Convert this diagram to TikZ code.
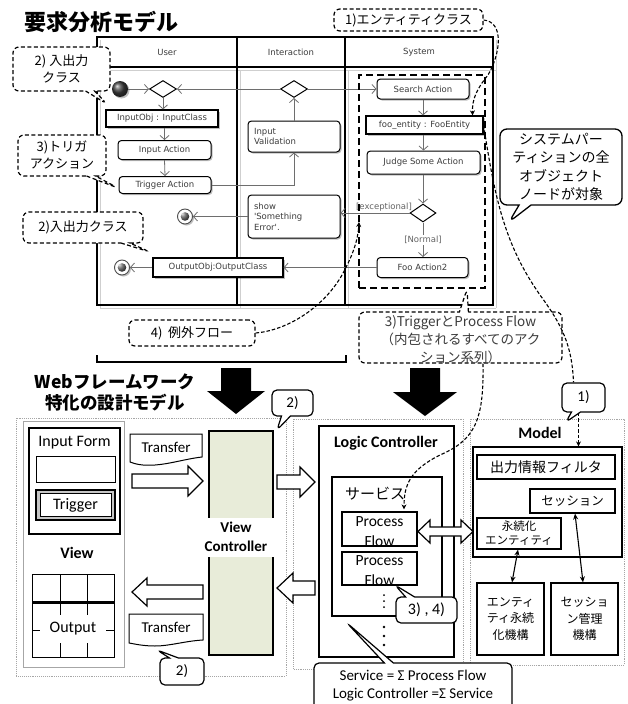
\documentclass[tikz,border=0pt]{standalone}
\usepackage{fontspec}
\setmainfont{Carlito}
\newfontfamily\jp{Noto Sans CJK JP}
\newfontfamily\umlf{DejaVu Sans}
\usetikzlibrary{arrows.meta,shapes.callouts,shapes.geometric,shadows}
\definecolor{umltxt}{HTML}{3C3C3C}
\definecolor{umlline}{HTML}{6E6E6E}
\definecolor{vcfill}{HTML}{E8ECD9}
\definecolor{lanesh}{HTML}{CFCFCF}
\begin{document}
\begin{tikzpicture}[x=1pt,y=-1pt,
  umlfont/.style={font=\umlf\fontsize{8.5}{10.5}\selectfont, text=umltxt},
  shad/.style={drop shadow={shadow xshift=1.5pt, shadow yshift=-1.5pt, opacity=0.25, fill=black}},
  act/.style={draw, rounded corners=3.5pt, line width=1pt, fill=white, umlfont, inner sep=0pt, shad},
  obj/.style={draw, line width=1.2pt, fill=white, umlfont, inner sep=0pt, shad},
  dec/.style={diamond, draw, line width=1pt, fill=white, inner sep=0pt, minimum width=27pt, minimum height=17pt},
  initn/.style={circle, minimum size=16pt, inner sep=0pt, ball color=black!75, shad},
  finn/.style={circle, minimum size=15pt, inner sep=0pt, draw=black!70, line width=0.9pt, fill=white, shad,
     path picture={\shade[ball color=black!70] (path picture bounding box.center) circle (4.3pt);}},
  flow/.style={draw=umlline, line width=0.8pt, -{Straight Barb[length=4pt,width=9pt]}},
  guard/.style={umlfont, text=umltxt!80, inner sep=1pt},
  jpc/.style={font=\jp\fontsize{13}{17}\selectfont, align=center},
  dbox/.style={draw, fill=white, rounded corners=6pt, line width=1.2pt,
     dash pattern=on 4pt off 2.5pt, inner sep=1pt, jpc},
  dcall/.style={rectangle callout, dbox, callout pointer width=9pt},
  scall/.style={rectangle callout, draw, fill=white, rounded corners=5pt, line width=1.2pt,
     inner sep=1pt, callout pointer width=9pt, font=\fontsize{15}{19}\selectfont, align=center},
  anno/.style={line width=1.1pt, dash pattern=on 3.5pt off 2pt},
  annoarr/.style={anno, -{Stealth[length=5pt,width=5pt]}},
  box/.style={draw, line width=1.2pt, inner sep=0pt, fill=white},
  lbl/.style={font=\fontsize{15}{19}\selectfont, align=center, inner sep=0pt},
  blbl/.style={font=\bfseries\fontsize{16}{19}\selectfont, align=center, inner sep=0pt},
  dotbox/.style={draw=gray!70, densely dotted, line width=0.9pt},
  wht/.style={draw, fill=white, line width=1.2pt, line join=miter},
  bigarr/.style={fill=black},
]
\clip (0,0) rectangle (628,704);
\fill[white] (0,0) rectangle (628,704);

% ===== Title =====
\node[font=\jp\bfseries\fontsize{22}{24}\selectfont, anchor=west, inner sep=0] (title1) at (24,22) {要求分析モデル};

% ===== Swimlanes =====
\draw[lanesh, line width=1pt] (100,40) -- (100,308) (240,70) -- (240,308) (348,70) -- (348,308)
  (496,40) -- (496,308) (100,308) -- (496,308) (100,70) -- (496,70);
\draw[line width=1.3pt] (97,37) rectangle (493,305);
\draw[line width=1.3pt] (97,67) -- (493,67) (237,37) -- (237,305) (345,37) -- (345,305);
\node[umlfont] (hUser) at (167,52) {User};
\node[umlfont] (hInter) at (291,52) {Interaction};
\node[umlfont] (hSys) at (419,52) {System};

% User lane
\node[initn] (init) at (120,89) {};
\node[dec] (ud) at (163,89) {};
\node[obj, minimum width=112pt, minimum height=17pt] (inobj) at (162,118.5) {InputObj : InputClass};
\node[act, minimum width=93pt, minimum height=19pt] (inact) at (164.5,150) {Input Action};
\node[act, minimum width=92pt, minimum height=17pt] (trig) at (165,185) {Trigger Action};
\node[finn] (fin1) at (185,216.5) {};
\node[finn] (fin2) at (122,267.5) {};
\node[obj, minimum width=130pt, minimum height=19pt] (outobj) at (218,267.5) {OutputObj:OutputClass};

% Interaction lane
\node[dec] (id) at (294,89) {};
\node[act, minimum width=92pt, minimum height=31pt, align=left, text width=80pt] (ival) at (294,136.5) {Input\\Validation};
\node[act, minimum width=92pt, minimum height=43pt, align=left, text width=80pt] (show) at (294,216.5) {show\\'Something\\Error'.};

% System lane
\node[act, minimum width=92pt, minimum height=20pt] (search) at (423,89) {Search Action};
\node[obj, minimum width=117pt, minimum height=18pt] (fooent) at (424.5,125) {foo\_entity : FooEntity};
\node[act, minimum width=113pt, minimum height=23pt] (judge) at (423.5,162.5) {Judge Some Action};
\node[dec, minimum width=26pt, minimum height=18pt] (dd) at (423,213) {};
\node[act, minimum width=91pt, minimum height=20pt] (foo2) at (422.5,267.5) {Foo Action2};

% flows
\draw[flow] (init.east) -- (ud.west);
\draw[flow] (id.west) -- (ud.east);
\draw[flow] (id.east) -- (search.west);
\draw[flow] (ud.south) -- (ud.south |- inobj.north);
\draw[flow] (inobj.south -| inact.north) -- (inact.north);
\draw[flow] (inact.south) -- (trig.north);
\draw[flow] (trig.east) -| (ival.south);
\draw[flow] (ival.north) -- (id.south);
\draw[flow] (search.south) -- (search.south |- fooent.north);
\draw[flow] (fooent.south -| judge.north) -- (judge.north);
\draw[flow] (judge.south -| dd.north) -- (dd.north);
\draw[flow] (dd.west) -- (dd.west -| show.east) node[guard, above, pos=0.37] {[exceptional]};
\draw[flow] (dd.south) -- (dd.south |- foo2.north) node[guard, midway, fill=white] {[Normal]};
\draw[flow] (foo2.west) -- (outobj.east);
\draw[flow] (outobj.west) -- (fin2.east);
\draw[flow] (show.west) -- (fin1.east);

% system partition
\node[draw, line width=2pt, dash pattern=on 7pt off 4pt, minimum width=126pt, minimum height=213pt, inner sep=0] (syspart) at (422,181.5) {};

% ===== Callouts (top) =====
\node[dcall, minimum width=97pt, minimum height=44pt, callout absolute pointer={(107,104)}] (c1) at (61.5,69) {2) 入出力\\クラス};
\node[dcall, minimum width=88pt, minimum height=41pt, callout absolute pointer={(118,188)}] (c2) at (62,155.5) {3)トリガ\\アクション};
\node[dcall, minimum width=120pt, minimum height=31pt, callout absolute pointer={(150,252)}] (c3) at (83,227.5) {2)入出力クラス};
\node[dbox, minimum width=149pt, minimum height=22pt] (c4) at (408.5,20) {1)エンティティクラス};
\node[rectangle callout, draw, fill=white, rounded corners=7pt, line width=1.3pt, callout pointer width=12pt,
  minimum width=122pt, minimum height=76pt, inner sep=1pt, align=center,
  font=\jp\fontsize{14}{18.3}\selectfont, callout absolute pointer={(509,222)}] (c5) at (561,167)
  {システムパー\\ティションの全\\オブジェクト\\ノードが対象};
\node[dbox, minimum width=126pt, minimum height=26pt] (c6) at (192,333) {4)\ \ 例外フロー};
\node[dcall, minimum width=203pt, minimum height=51pt, callout absolute pointer={(467,289)}] (c7) at (460.5,337.5) {};
\node[font=\jp\fontsize{13.5}{18}\selectfont, align=center, text=umltxt, inner sep=0] (c7t) at (460.5,340)
  {3)TriggerとProcess Flow\\（内包されるすべてのアク\\ション系列）};

% bracket
\draw[line width=2.2pt] (97,355) -- (97,362) -- (346,362) -- (346,355);

% big arrows
\fill[bigarr] (221,368) -- (251,368) -- (251,391) -- (265,391) -- (236,414) -- (207,391) -- (221,391) -- cycle;
\fill[bigarr] (410,368) -- (440,368) -- (440,392) -- (457,392) -- (425,416) -- (393,392) -- (410,392) -- cycle;

\node[font=\jp\bfseries\fontsize{17.5}{21}\selectfont, align=center, inner sep=0] (title2) at (115,392) {Webフレームワーク\\特化の設計モデル};

% ===== Bottom: dotted areas =====
\draw[dotbox] (16,418) rectangle (286,676);
\draw[dotbox] (293,419) rectangle (463,669);
\draw[dotbox] (470,419) rectangle (624,665);

% View area
\draw[gray!70, line width=0.8pt] (23,421) rectangle (124,667);
\node[box, minimum width=91pt, minimum height=106pt] (inform) at (74.5,481) {};
\node[lbl, font=\fontsize{16}{18}\selectfont] (informlbl) at (74.5,443) {Input Form};
\node[box, line width=1pt, minimum width=79pt, minimum height=26pt] (tfield) at (75.5,469) {};
\node[draw, line width=1.5pt, fill=gray!45, minimum width=79pt, minimum height=30pt, inner sep=0] (trigout) at (75.5,505) {};
\node[draw, line width=0.8pt, fill=white, minimum width=71pt, minimum height=23pt, inner sep=0,
  font=\fontsize{16}{18}\selectfont] (trigbtn) at (75.5,505) {Trigger};
\node[blbl] (viewlbl) at (77,553) {View};
\draw[line width=0.9pt] (32,574) rectangle (114,657);
\draw[line width=0.9pt] (60,574) -- (60,657) (87,574) -- (87,657) (32,630) -- (114,630);
\draw[line width=3pt] (32,602) -- (114,602);
\node[fill=white, minimum width=66pt, minimum height=28pt, inner sep=0, font=\fontsize{16}{18}\selectfont] (outlbl) at (73,629) {Output};

% Transfer shapes
\draw[line width=1pt, fill=white] (130,434) -- (202,434) -- (202,457) .. controls (185,459) and (170,464) .. (155,465)
  .. controls (143,466) and (135,464) .. (130,462) -- cycle;
\node[lbl] (tr1) at (166,447) {Transfer};
\draw[line width=1pt, fill=white] (129,614) -- (203,614) -- (203,640) .. controls (185,641) and (170,646) .. (155,646)
  .. controls (143,646) and (135,644) .. (129,643) -- cycle;
\node[lbl] (tr2) at (166,627) {Transfer};

% block arrows
\draw[wht] (132,474) -- (188,474) -- (188,466) -- (203,481) -- (188,496) -- (188,488) -- (132,488) -- cycle;
\draw[wht] (203,585) -- (147,585) -- (147,578) -- (132,592) -- (147,606) -- (147,599) -- (203,599) -- cycle;
\draw[wht] (277,475) -- (300,475) -- (300,467) -- (315,482) -- (300,497) -- (300,489) -- (277,489) -- cycle;
\draw[wht] (315,581) -- (293,581) -- (293,573) -- (277,588) -- (293,603) -- (293,595) -- (315,595) -- cycle;

% View Controller
\node[draw, line width=1.3pt, fill=vcfill, minimum width=64pt, minimum height=224pt, inner sep=0] (vc) at (241,543) {};
\node[blbl, font=\bfseries\fontsize{15}{19}\selectfont, fill=white, minimum width=85pt, minimum height=39pt] (vclbl) at (236,537) {View\\Controller};

% Logic Controller
\node[box, minimum width=135pt, minimum height=231pt] (lc) at (386.5,541.5) {};
\node[blbl] (lclbl) at (386,443) {Logic Controller};
\node[box, minimum width=110pt, minimum height=139pt] (svc) at (387,546.5) {};
\node[font=\jp\fontsize{15}{17}\selectfont, anchor=west, inner sep=0] (svclbl) at (345,494) {サービス};
\node[box, minimum width=75pt, minimum height=34pt] (pf1) at (379.5,529) {};
\node[lbl, font=\fontsize{15.5}{20}\selectfont] (pf1t) at (379.5,532) {Process\\Flow};
\node[box, minimum width=75pt, minimum height=33pt] (pf2) at (379.5,568.5) {};
\node[lbl, font=\fontsize{15.5}{20}\selectfont] (pf2t) at (379.5,571) {Process\\Flow};
\fill (384,595) circle (1pt) (384,601) circle (1pt) (384,607) circle (1pt);
\fill (384,627) circle (1.4pt) (384,636) circle (1.4pt) (384,645) circle (1.4pt);

% double arrow
\draw[wht] (418,531.5) -- (430,520) -- (430,527) -- (461,527) -- (461,520) -- (473,531.5) -- (461,543) -- (461,536) -- (430,536) -- (430,543) -- cycle;

% Model
\node[blbl] (modellbl) at (540,433) {Model};
\node[box, minimum width=149pt, minimum height=110pt] (mbox) at (547.5,502) {};
\node[box, minimum width=138pt, minimum height=24pt, font=\jp\fontsize{14}{16}\selectfont] (filt) at (546,467) {出力情報フィルタ};
\node[box, minimum width=85pt, minimum height=24pt, font=\jp\fontsize{12.5}{15}\selectfont] (sess) at (572.5,501) {セッション};
\node[box, minimum width=84pt, minimum height=31pt, align=center, font=\jp\fontsize{11.5}{14}\selectfont] (pent) at (519,533.5) {永続化\\エンティティ};
\node[box, minimum width=67pt, minimum height=72pt, align=center, font=\jp\fontsize{12}{16.7}\selectfont] (epm) at (510.5,619) {エンティ\\ティ永続\\化機構};
\node[box, minimum width=67pt, minimum height=72pt, align=center, font=\jp\fontsize{12}{16.7}\selectfont] (smm) at (584.5,619) {セッショ\\ン管理\\機構};
\draw[line width=1.1pt, {Stealth[length=6pt,width=5pt]}-{Stealth[length=6pt,width=5pt]}] ([xshift=-1pt]pent.south) -- ([xshift=1.5pt]epm.north);
\draw[line width=1.1pt, {Stealth[length=6pt,width=5pt]}-{Stealth[length=6pt,width=5pt]}] ([xshift=2.5pt]sess.south) -- ([xshift=-1.5pt]smm.north);

% bottom callouts
\node[scall, minimum width=41pt, minimum height=26pt, callout absolute pointer={(277,430)}] (c2a) at (292.5,403) {2)};
\node[scall, minimum width=44pt, minimum height=27pt, callout absolute pointer={(157,650)}] (c2b) at (182,671.5) {2)};
\node[scall, minimum width=43pt, minimum height=29pt, callout absolute pointer={(566,422)}] (c8) at (583.5,397.5) {1)};
\node[scall, minimum width=61pt, minimum height=26pt, font=\fontsize{16}{18}\selectfont, callout absolute pointer={(395,585)}] (c34) at (426.5,610) {3) , 4)};
\node[scall, minimum width=198pt, minimum height=46pt, font=\fontsize{15}{18}\selectfont, callout absolute pointer={(347,623)}] (csvc) at (413,686) {Service = Σ Process Flow\\Logic Controller =Σ Service};

% ===== annotation curves =====
\draw[annoarr] (c4.east) .. controls (505,22) and (500,55) .. (488,75) .. controls (476,90) and (472,100) .. ([xshift=-11pt]fooent.north east);
\coordinate (exctip) at (359,222);
\draw[annoarr] (c6.east) .. controls (290,330) and (325,305) .. (342,275) .. controls (353,255) and (358,240) .. (exctip);
\draw[anno] (fooent.east) .. controls (495,200) and (505,245) .. (540,295) .. controls (562,325) and (572,345) .. ([xshift=-10pt]c8.north);
\draw[annoarr] ([xshift=22.5pt]c7.south) .. controls (484,420) and (475,440) .. (440,455) .. controls (410,470) and (404,485) .. ([xshift=24.5pt,yshift=2pt]pf1.north);
\draw[annoarr] ([xshift=-5pt]c8.south) -- ([xshift=-5pt]c8.south |- mbox.north);

\end{tikzpicture}
\end{document}
